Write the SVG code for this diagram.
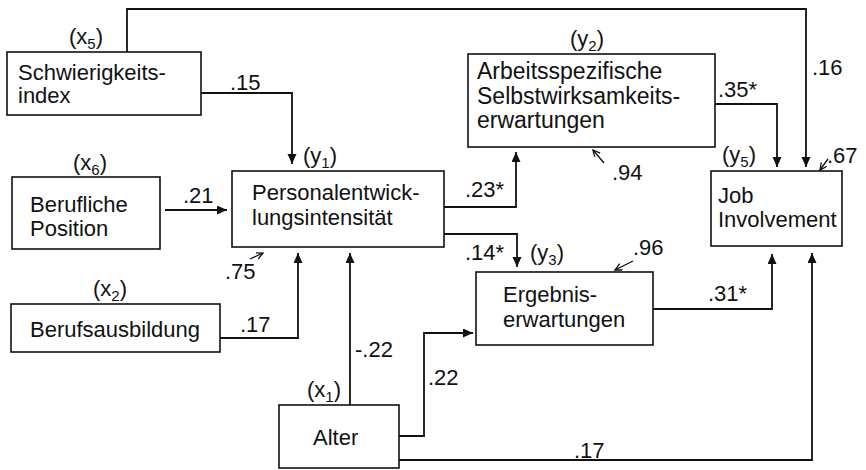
<svg xmlns="http://www.w3.org/2000/svg" width="866" height="470" viewBox="0 0 866 470">
<style>
text{font-family:"Liberation Sans",Arial,sans-serif;font-size:22px;fill:#111}
.big{font-size:23px}
.box{fill:#fff;stroke:#111;stroke-width:1.6}
.sub{font-size:15px}
.c{fill:none;stroke:#111;stroke-width:1.8;marker-end:url(#ah)}
.r{fill:none;stroke:#111;stroke-width:1.3;marker-end:url(#oh)}
</style>
<defs>
<marker id="ah" markerUnits="userSpaceOnUse" markerWidth="12" markerHeight="12" refX="10" refY="4.5" orient="auto"><path d="M0,0 L10,4.5 L0,9 z" fill="#111"/></marker>
<marker id="oh" markerUnits="userSpaceOnUse" markerWidth="10" markerHeight="10" refX="7" refY="3.5" orient="auto"><path d="M0,0 L7,3.5 L0,7" fill="none" stroke="#111" stroke-width="1.3"/></marker>
</defs>
<rect width="866" height="470" fill="#fff"/>
<g id="connectors">
<path class="c" d="M127,52 V9 H806 V167"/>
<path class="c" d="M201,93 H292 V164"/>
<path class="c" d="M165,210 H227"/>
<path class="c" d="M220,338 H298 V253"/>
<path class="c" d="M350,405 V253"/>
<path class="c" d="M444,207 H516 V152"/>
<path class="c" d="M444,234 H517 V267"/>
<path class="c" d="M715,104 H777 V167"/>
<path class="c" d="M653,309 H772 V254"/>
<path class="c" d="M399,436 H424 V333 H473"/>
<path class="c" d="M399,460 H812 V253"/>
<path class="r" d="M250,259 L263,253"/>
<path class="r" d="M604,163 L593,150"/>
<path class="r" d="M633,261 L615,270"/>
<path class="r" d="M828,159 L820,170"/>
<text x="230" y="90">.15</text>
<text x="812" y="75">.16</text>
<text x="718" y="97">.35*</text>
<text x="827" y="163">.67</text>
<text x="612" y="180">.94</text>
<text x="183" y="203">.21</text>
<text x="225" y="279">.75</text>
<text x="240" y="332">.17</text>
<text x="465" y="197">.23*</text>
<text x="465" y="260">.14*</text>
<text x="633" y="255">.96</text>
<text x="708" y="301">.31*</text>
<text x="355" y="357">-.22</text>
<text x="428" y="385">.22</text>
<text x="574" y="458">.17</text>
</g>
<g id="x5">
<rect class="box" x="7" y="52" width="194" height="63"/>
<text x="18" y="80">Schwierigkeits-</text>
<text x="18" y="103">index</text>
<text x="69" y="44">(x<tspan class="sub" dy="5">5</tspan><tspan dy="-5">)</tspan></text>
</g>
<g id="x6">
<rect class="box" x="12" y="177" width="148" height="72"/>
<text x="30" y="212">Berufliche</text>
<text x="30" y="236">Position</text>
<text x="73" y="170">(x<tspan class="sub" dy="5">6</tspan><tspan dy="-5">)</tspan></text>
</g>
<g id="x2">
<rect class="box" x="11" y="304" width="209" height="48"/>
<text x="30" y="337">Berufsausbildung</text>
<text x="93" y="296">(x<tspan class="sub" dy="5">2</tspan><tspan dy="-5">)</tspan></text>
</g>
<g id="y1">
<rect class="box" x="232" y="171" width="212" height="76"/>
<text x="252" y="200">Personalentwick-</text>
<text x="252" y="225">lungsintensität</text>
<text x="303" y="163">(y<tspan class="sub" dy="5">1</tspan><tspan dy="-5">)</tspan></text>
</g>
<g id="y2">
<rect class="box" x="468" y="54" width="247" height="93"/>
<text class="big" x="477" y="79">Arbeitsspezifische</text>
<text class="big" x="477" y="104">Selbstwirksamkeits-</text>
<text class="big" x="477" y="128">erwartungen</text>
<text x="570" y="46">(y<tspan class="sub" dy="5">2</tspan><tspan dy="-5">)</tspan></text>
</g>
<g id="y3">
<rect class="box" x="476" y="272" width="177" height="73"/>
<text x="503" y="302">Ergebnis-</text>
<text x="503" y="327">erwartungen</text>
<text x="530" y="260">(y<tspan class="sub" dy="5">3</tspan><tspan dy="-5">)</tspan></text>
</g>
<g id="y5">
<rect class="box" x="711" y="171" width="131" height="75"/>
<text x="718" y="203">Job</text>
<text x="718" y="227">Involvement</text>
<text x="722" y="162">(y<tspan class="sub" dy="5">5</tspan><tspan dy="-5">)</tspan></text>
</g>
<g id="x1">
<rect class="box" x="279" y="405" width="120" height="63"/>
<text x="313" y="445">Alter</text>
<text x="307" y="397">(x<tspan class="sub" dy="5">1</tspan><tspan dy="-5">)</tspan></text>
</g>
</svg>
